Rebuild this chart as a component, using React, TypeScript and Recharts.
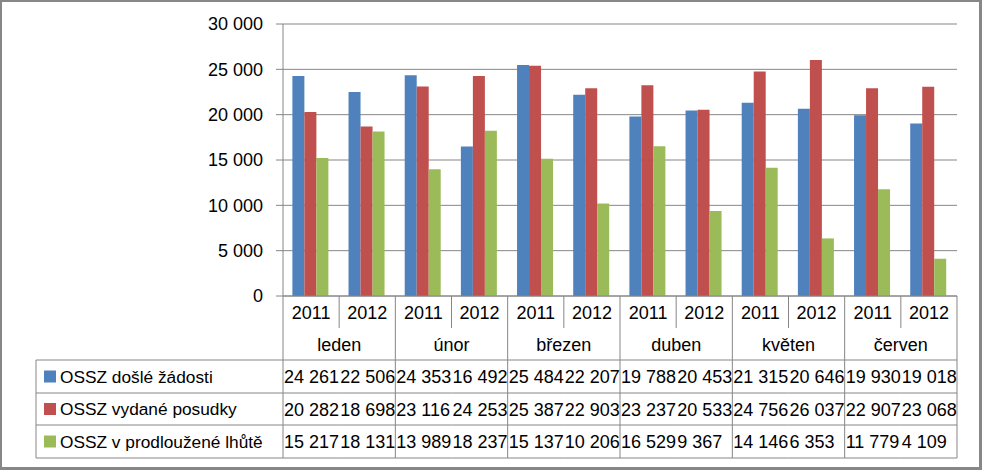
import React from "react"
import { BarChart, Bar, XAxis, YAxis, CartesianGrid } from "recharts"

const months = ["leden", "únor", "březen", "duben", "květen", "červen"]
const years = ["2011", "2012"]

const seriesNames = ["OSSZ došlé žádosti", "OSSZ vydané posudky", "OSSZ v prodloužené lhůtě"]
const seriesColors = ["#4F81BD", "#C0504D", "#9BBB59"]

const dosle = [24261, 22506, 24353, 16492, 25484, 22207, 19788, 20453, 21315, 20646, 19930, 19018]
const vydane = [20282, 18698, 23116, 24253, 25387, 22903, 23237, 20533, 24756, 26037, 22907, 23068]
const prodlouzene = [15217, 18131, 13989, 18237, 15137, 10206, 16529, 9367, 14146, 6353, 11779, 4109]

const yTicks = [0, 5000, 10000, 15000, 20000, 25000, 30000]

const seriesValues = [dosle, vydane, prodlouzene]

const data = dosle.map((_, i) => ({
  key: `${months[Math.floor(i / 2)]} ${years[i % 2]}`,
  dosle: dosle[i],
  vydane: vydane[i],
  prodlouzene: prodlouzene[i],
}))

const FONT = "'Liberation Sans', Arial, sans-serif"
const LINE = "#868686"
const NUM = 18
const fmt = (n: number) => String(n).replace(/\B(?=(\d{3})+(?!\d))/g, " ")

// table row boundaries, relative to axis y
const ROWS = [64, 97, 129, 162]

function TableTick(props: any) {
  const { x, y, payload } = props
  const i: number = payload.index
  const bw: number = payload.offset ? payload.offset * 2 : 56.2
  const left = x - bw / 2
  const right = x + bw / 2
  const bottom = y + ROWS[3]
  const els: React.ReactNode[] = []

  if (i === 0) {
    const tl = 36
    els.push(<line key="l0" x1={left} x2={left} y1={y} y2={bottom} stroke={LINE} />)
    els.push(<line key="l1" x1={tl} x2={tl} y1={y + ROWS[0]} y2={bottom} stroke={LINE} />)
    ROWS.forEach((r, k) =>
      els.push(<line key={"lr" + k} x1={tl} x2={left} y1={y + r} y2={y + r} stroke={LINE} />)
    )
    seriesNames.forEach((name, k) => {
      const cy = y + (ROWS[k] + ROWS[k + 1]) / 2
      els.push(<rect key={"sq" + k} x={44} y={cy - 6} width={12} height={12} fill={seriesColors[k]} />)
      els.push(
        <text key={"nm" + k} x={60} y={cy + 6} fontSize={17.3} fontFamily={FONT} fill="#000">
          {name}
        </text>
      )
    })
  }

  // year row
  els.push(
    <text key="yr" x={x} y={y + 23} textAnchor="middle" fontSize={NUM} fontFamily={FONT} fill="#000">
      {years[i % 2]}
    </text>
  )
  // separator on the right side
  const monthEnd = i % 2 === 1
  els.push(
    <line key="sep" x1={right} x2={right} y1={y} y2={monthEnd ? bottom : y + 32} stroke={LINE} />
  )
  if (!monthEnd) {
    els.push(
      <text key="mo" x={right} y={y + 55} textAnchor="middle" fontSize={NUM} fontFamily={FONT} fill="#000">
        {months[Math.floor(i / 2)]}
      </text>
    )
  }
  ROWS.forEach((r, k) =>
    els.push(<line key={"r" + k} x1={left} x2={right} y1={y + r} y2={y + r} stroke={LINE} />)
  )
  seriesValues.forEach((vals, k) => {
    const cy = y + (ROWS[k] + ROWS[k + 1]) / 2
    els.push(
      <text key={"v" + k} x={left + 1} y={cy + 6.5} fontSize={NUM} fontFamily={FONT} fill="#000">
        {fmt(vals[i])}
      </text>
    )
  })

  return <g>{els}</g>
}

export default function App() {
  return (
    <div style={{ position: "absolute", left: 0, top: 0, width: 982, height: 470, background: "#fff" }}>
      <BarChart
        width={982}
        height={470}
        data={data}
        margin={{ top: 24, right: 25, left: 0, bottom: 0 }}
        barCategoryGap="16.7%"
        barGap={0}
      >
        <CartesianGrid vertical={false} stroke={LINE} />
        <XAxis
          dataKey="key"
          height={174}
          axisLine={{ stroke: LINE }}
          tickLine={false}
          tickSize={0}
          tickMargin={0}
          interval={0}
          tick={<TableTick />}
        />
        <YAxis
          width={283}
          domain={[0, 30000]}
          ticks={yTicks}
          tickFormatter={fmt}
          axisLine={{ stroke: LINE }}
          tickLine={{ stroke: LINE }}
          tickSize={7}
          tickMargin={13}
          tick={{ fontSize: NUM, fontFamily: FONT, fill: "#000" }}
        />
        <Bar dataKey="dosle" fill={seriesColors[0]} isAnimationActive={false} />
        <Bar dataKey="vydane" fill={seriesColors[1]} isAnimationActive={false} />
        <Bar dataKey="prodlouzene" fill={seriesColors[2]} isAnimationActive={false} />
      </BarChart>
      <div
        style={{
          position: "absolute",
          left: 0,
          top: 0,
          width: 982,
          height: 470,
          boxSizing: "border-box",
          border: "2px solid #878787",
          borderRightWidth: 3,
          borderBottomWidth: 3,
          pointerEvents: "none",
        }}
      />
    </div>
  )
}
